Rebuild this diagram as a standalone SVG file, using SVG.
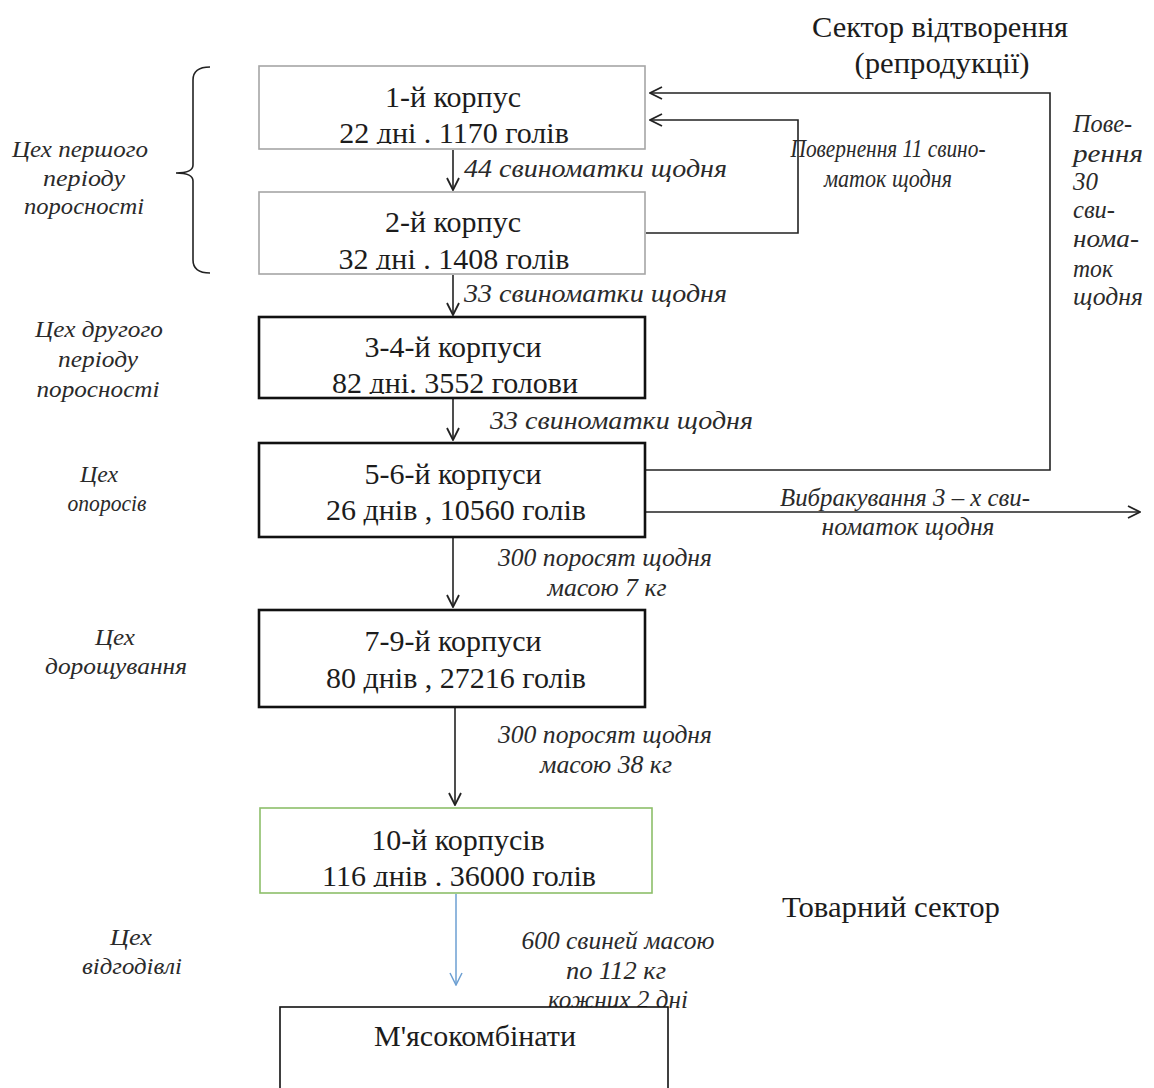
<svg xmlns="http://www.w3.org/2000/svg" width="1154" height="1088" viewBox="0 0 1154 1088">
<style>
.bt{font-family:"Liberation Serif","Times New Roman",serif;font-size:30px;fill:#1c1c1c;text-anchor:middle}
.hd{font-family:"Liberation Serif","Times New Roman",serif;font-size:29px;fill:#1c1c1c;text-anchor:middle}
.it{font-family:"Liberation Serif","Times New Roman",serif;font-style:italic;font-size:25px;fill:#2a2a2a}
.itc{font-family:"Liberation Serif","Times New Roman",serif;font-style:italic;font-size:25px;fill:#2a2a2a;text-anchor:middle}
.ws{font-family:"Liberation Serif","Times New Roman",serif;font-style:italic;font-size:23px;fill:#2a2a2a;text-anchor:middle}
.ln{fill:none;stroke:#222;stroke-width:1.6}
.box{fill:#fff}
</style>
<defs>
<marker id="ah" viewBox="0 0 14 14" refX="13" refY="7" markerWidth="14" markerHeight="14" markerUnits="userSpaceOnUse" orient="auto">
<path d="M1,1 L13,7 L1,13" fill="none" stroke="#222" stroke-width="1.8"/>
</marker>
<marker id="ahb" viewBox="0 0 14 14" refX="13" refY="7" markerWidth="14" markerHeight="14" markerUnits="userSpaceOnUse" orient="auto">
<path d="M1,1 L13,7 L1,13" fill="none" stroke="#6d9fd2" stroke-width="1.5"/>
</marker>
<clipPath id="c1"><rect x="259" y="66" width="386" height="78"/></clipPath>
<clipPath id="c2"><rect x="259" y="192" width="386" height="78"/></clipPath>
<clipPath id="c3"><rect x="259" y="317" width="386" height="77"/></clipPath>
<clipPath id="c6"><rect x="260" y="808" width="392" height="79"/></clipPath>
</defs>

<g id="headings">
<text class="hd" x="940" y="37" textLength="256" lengthAdjust="spacingAndGlyphs">Сектор відтворення</text>
<text class="hd" x="942" y="73" textLength="175" lengthAdjust="spacingAndGlyphs">(репродукції)</text>
<text class="hd" x="891" y="917" textLength="218" lengthAdjust="spacingAndGlyphs">Товарний сектор</text>
</g>

<g id="workshops">
<text class="ws" x="80" y="157" textLength="136" lengthAdjust="spacingAndGlyphs">Цех першого</text>
<text class="ws" x="84" y="186" textLength="82" lengthAdjust="spacingAndGlyphs">періоду</text>
<text class="ws" x="84" y="214" textLength="120" lengthAdjust="spacingAndGlyphs">поросності</text>
<path class="ln" d="M210,67 Q193,67 193,80 L193,165 Q193,173 176,173 Q193,173 193,181 L193,260 Q193,273 210,273" stroke-width="1.4"/>
<text class="ws" x="99" y="337" textLength="128" lengthAdjust="spacingAndGlyphs">Цех другого</text>
<text class="ws" x="98" y="367" textLength="80" lengthAdjust="spacingAndGlyphs">періоду</text>
<text class="ws" x="98" y="397" textLength="123" lengthAdjust="spacingAndGlyphs">поросності</text>
<text class="ws" x="99" y="482" textLength="38" lengthAdjust="spacingAndGlyphs">Цех</text>
<text class="ws" x="107" y="511" textLength="79" lengthAdjust="spacingAndGlyphs">опоросів</text>
<text class="ws" x="115" y="645" textLength="40" lengthAdjust="spacingAndGlyphs">Цех</text>
<text class="ws" x="116" y="674" textLength="142" lengthAdjust="spacingAndGlyphs">дорощування</text>
<text class="ws" x="131" y="945" textLength="42" lengthAdjust="spacingAndGlyphs">Цех</text>
<text class="ws" x="132" y="974" textLength="100" lengthAdjust="spacingAndGlyphs">відгодівлі</text>
</g>

<g id="connectors">
<line class="ln" x1="453" y1="150" x2="453" y2="190" marker-end="url(#ah)"/>
<line class="ln" x1="453" y1="275" x2="453" y2="315" marker-end="url(#ah)"/>
<line class="ln" x1="453" y1="399" x2="453" y2="440" marker-end="url(#ah)"/>
<line class="ln" x1="453" y1="538" x2="453" y2="607" marker-end="url(#ah)"/>
<line class="ln" x1="455" y1="708" x2="455" y2="805" marker-end="url(#ah)"/>
<line x1="456" y1="894" x2="456" y2="985" stroke="#6d9fd2" stroke-width="1.5" marker-end="url(#ahb)"/>
<polyline class="ln" points="646,233 798,233 798,120 650,120" marker-end="url(#ah)"/>
<polyline class="ln" points="646,470 1050,470 1050,93 650,93" marker-end="url(#ah)"/>
<line class="ln" x1="646" y1="512" x2="1140" y2="512" marker-end="url(#ah)"/>
</g>

<g id="labels">
<text class="it" x="464" y="177" textLength="263" lengthAdjust="spacingAndGlyphs">44 свиноматки щодня</text>
<text class="itc" x="888" y="157" font-size="23" textLength="195" lengthAdjust="spacingAndGlyphs">Повернення 11 свино-</text>
<text class="itc" x="888" y="187" font-size="23" textLength="128" lengthAdjust="spacingAndGlyphs">маток щодня</text>
<text class="it" x="464" y="302" textLength="263" lengthAdjust="spacingAndGlyphs">33 свиноматки щодня</text>
<text class="it" x="1073" y="132" textLength="59" lengthAdjust="spacingAndGlyphs">Пове-</text>
<text class="it" x="1073" y="162" textLength="70" lengthAdjust="spacingAndGlyphs">рення</text>
<text class="it" x="1073" y="190" textLength="25" lengthAdjust="spacingAndGlyphs">30</text>
<text class="it" x="1073" y="218" textLength="42" lengthAdjust="spacingAndGlyphs">сви-</text>
<text class="it" x="1073" y="247" textLength="66" lengthAdjust="spacingAndGlyphs">нома-</text>
<text class="it" x="1073" y="277" textLength="40" lengthAdjust="spacingAndGlyphs">ток</text>
<text class="it" x="1073" y="305" textLength="70" lengthAdjust="spacingAndGlyphs">щодня</text>
<text class="it" x="490" y="429" textLength="263" lengthAdjust="spacingAndGlyphs">33 свиноматки щодня</text>
<text class="itc" x="905" y="506" textLength="250" lengthAdjust="spacingAndGlyphs">Вибракування 3 – х сви-</text>
<text class="itc" x="908" y="535" textLength="173" lengthAdjust="spacingAndGlyphs">номаток щодня</text>
<text class="itc" x="605" y="566" textLength="214" lengthAdjust="spacingAndGlyphs">300 поросят щодня</text>
<text class="itc" x="607" y="596" textLength="119" lengthAdjust="spacingAndGlyphs">масою 7 кг</text>
<text class="itc" x="605" y="743" textLength="214" lengthAdjust="spacingAndGlyphs">300 поросят щодня</text>
<text class="itc" x="606" y="773" textLength="132" lengthAdjust="spacingAndGlyphs">масою 38 кг</text>
<text class="itc" x="618" y="949" textLength="193" lengthAdjust="spacingAndGlyphs">600 свиней масою</text>
<text class="itc" x="616" y="979" textLength="100" lengthAdjust="spacingAndGlyphs">по 112 кг</text>
<text class="itc" x="618" y="1008" textLength="140" lengthAdjust="spacingAndGlyphs">кожних 2 дні</text>
</g>

<g id="n1">
<rect class="box" x="259" y="66" width="386" height="83" stroke="#a6a6a6" stroke-width="1.6"/>
<g clip-path="url(#c1)">
<text class="bt" x="453" y="107">1-й корпус</text>
<text class="bt" x="454" y="143">22 дні . 1170 голів</text>
</g>
</g>
<g id="n2">
<rect class="box" x="259" y="192" width="386" height="82" stroke="#a6a6a6" stroke-width="1.6"/>
<g clip-path="url(#c2)">
<text class="bt" x="453" y="232">2-й корпус</text>
<text class="bt" x="454" y="269">32 дні . 1408 голів</text>
</g>
</g>
<g id="n3">
<rect class="box" x="259" y="317" width="386" height="81" stroke="#111" stroke-width="2.6"/>
<g clip-path="url(#c3)">
<text class="bt" x="453" y="357">3-4-й корпуси</text>
<text class="bt" x="455" y="393">82 дні. 3552 голови</text>
</g>
</g>
<g id="n4">
<rect class="box" x="259" y="443" width="386" height="94" stroke="#111" stroke-width="2.6"/>
<text class="bt" x="453" y="484">5-6-й корпуси</text>
<text class="bt" x="456" y="520">26 днів , 10560 голів</text>
</g>
<g id="n5">
<rect class="box" x="259" y="610" width="386" height="97" stroke="#111" stroke-width="2.6"/>
<text class="bt" x="453" y="651">7-9-й корпуси</text>
<text class="bt" x="456" y="688">80 днів , 27216 голів</text>
</g>
<g id="n6">
<rect class="box" x="260" y="808" width="392" height="85" stroke="#8dbf6a" stroke-width="1.6"/>
<g clip-path="url(#c6)">
<text class="bt" x="458" y="850">10-й корпусів</text>
<text class="bt" x="459" y="886">116 днів . 36000 голів</text>
</g>
</g>
<g id="n7">
<rect class="box" x="280" y="1007" width="388" height="90" stroke="#111" stroke-width="1.6"/>
<text class="bt" x="475" y="1046">М'ясокомбінати</text>
</g>
</svg>
